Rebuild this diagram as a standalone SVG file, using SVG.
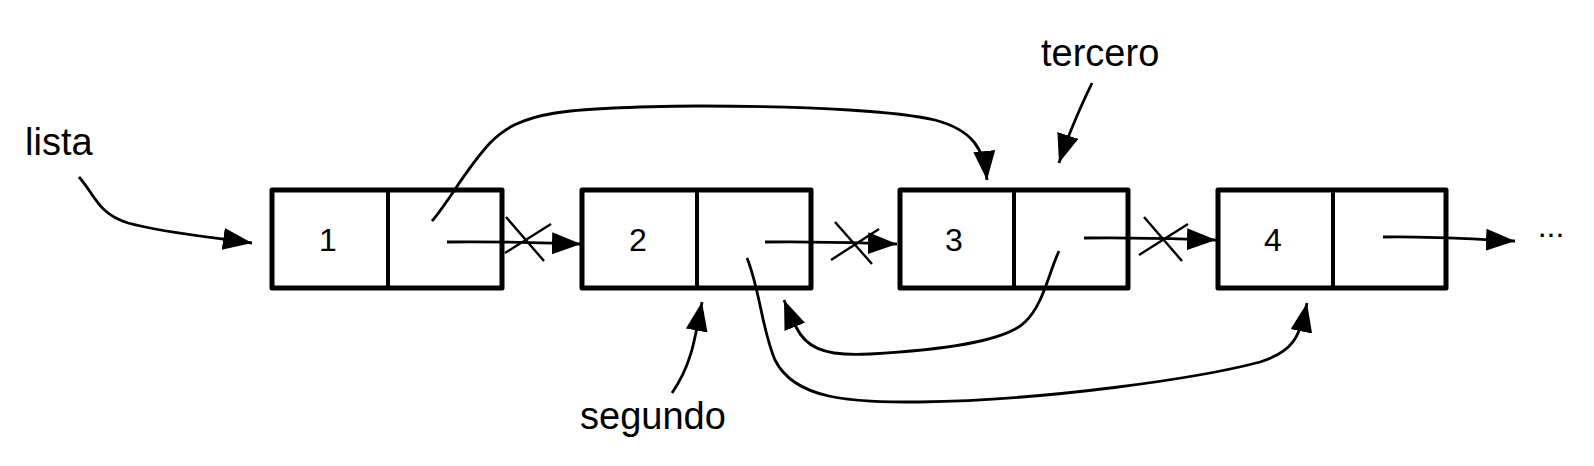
<svg xmlns="http://www.w3.org/2000/svg" width="1594" height="466" viewBox="0 0 1594 466">
  <style>
    .box { fill: #ffffff; stroke: #000000; stroke-width: 5; stroke-linejoin: round; }
    .div { stroke: #000000; stroke-width: 4; }
    .num { font-family: "Liberation Sans", Arial, sans-serif; font-size: 32px; fill: #000000; text-anchor: middle; }
    .lbl { font-family: "Liberation Sans", Arial, sans-serif; font-size: 38px; fill: #000000; }
    .edge { fill: none; stroke: #000000; stroke-width: 2.8; marker-end: url(#arrow); }
    .cross { fill: none; stroke: #000000; stroke-width: 2.4; }
  </style>
  <defs>
    <marker id="arrow" markerUnits="userSpaceOnUse" markerWidth="32" markerHeight="24" refX="29" refY="11" orient="auto">
      <path d="M0,0 L29,11 L0,22 Z" fill="#000000"/>
    </marker>
  </defs>
  <rect width="1594" height="466" fill="#ffffff"/>

  <g id="node1">
    <rect class="box" x="272" y="190" width="230" height="98"/>
    <line class="div" x1="388" y1="190" x2="388" y2="288"/>
    <text class="num" x="328" y="251">1</text>
  </g>
  <g id="node2">
    <rect class="box" x="582" y="190" width="229" height="98"/>
    <line class="div" x1="697" y1="190" x2="697" y2="288"/>
    <text class="num" x="638" y="251">2</text>
  </g>
  <g id="node3">
    <rect class="box" x="900" y="190" width="228" height="98"/>
    <line class="div" x1="1014" y1="190" x2="1014" y2="288"/>
    <text class="num" x="954" y="251">3</text>
  </g>
  <g id="node4">
    <rect class="box" x="1218" y="190" width="228" height="98"/>
    <line class="div" x1="1333" y1="190" x2="1333" y2="288"/>
    <text class="num" x="1273" y="251">4</text>
  </g>

  <g id="label-lista"><text class="lbl" x="25" y="155">lista</text></g>
  <g id="label-tercero"><text class="lbl" x="1041" y="66">tercero</text></g>
  <g id="label-segundo"><text class="lbl" x="580" y="429">segundo</text></g>
  <g id="label-more"><text class="num" x="1551" y="237">...</text></g>

  <g id="connectors">
    <path class="edge" d="M79,177 C95,195 98,214 128,223 C165,233 210,237 252,243"/>
    <path class="edge" d="M447,242 C500,241 540,243 581,244"/>
    <path class="edge" d="M765,242 C820,241 860,243 897,244"/>
    <path class="edge" d="M1084,238 C1140,237 1180,239 1216,240"/>
    <path class="edge" d="M1383,237 C1430,236 1470,239 1515,241"/>
    <path class="edge" d="M432,221 C450,200 465,170 490,143 C520,112 560,107 700,106 C820,106 900,112 935,120 C972,130 984,148 987,180"/>
    <path class="edge" d="M747,258 C760,290 762,330 775,360 C795,400 850,402 920,402 C1050,400 1200,378 1260,362 C1292,352 1300,338 1307,303"/>
    <path class="edge" d="M1059,251 C1048,275 1043,305 1025,322 C1005,342 940,350 870,354 C820,357 805,345 796,327 C792,318 788,310 784,300"/>
    <path class="edge" d="M672,393 C690,367 694,345 702,302"/>
    <path class="edge" d="M1092,83 C1080,108 1068,135 1059,163"/>
    <line class="cross" x1="506" y1="217" x2="544" y2="261"/>
    <line class="cross" x1="505" y1="253" x2="551" y2="224"/>
    <line class="cross" x1="835" y1="222" x2="872" y2="264"/>
    <line class="cross" x1="831" y1="260" x2="879" y2="229"/>
    <line class="cross" x1="1144" y1="217" x2="1182" y2="261"/>
    <line class="cross" x1="1139" y1="255" x2="1188" y2="224"/>
  </g>
</svg>
